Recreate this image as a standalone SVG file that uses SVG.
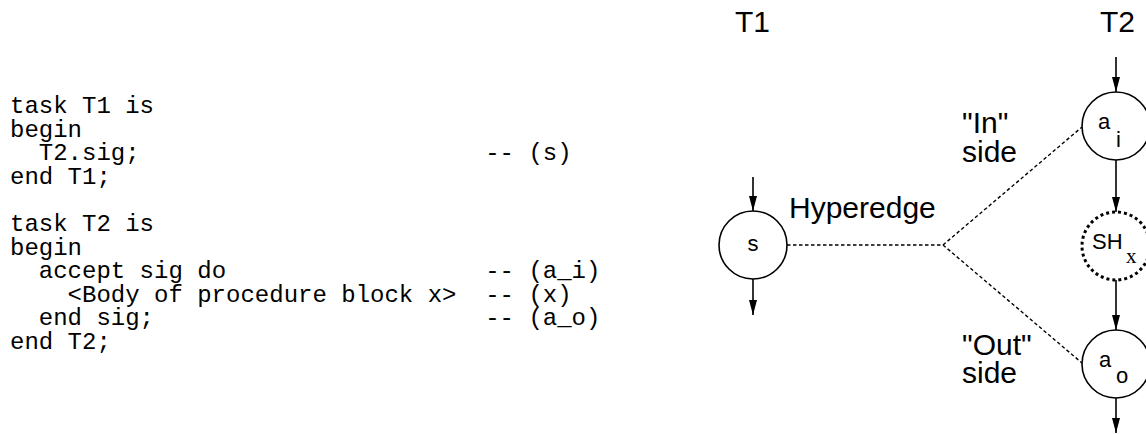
<svg xmlns="http://www.w3.org/2000/svg" width="1146" height="434" viewBox="0 0 1146 434">
<style>
.code{font-family:"Liberation Mono","Courier New",monospace;font-size:24px;fill:#000}
.lbl{font-family:"Liberation Sans",Arial,Helvetica,sans-serif;font-size:30px;fill:#000}
.nl{font-family:"Liberation Sans",Arial,Helvetica,sans-serif;font-size:22px;fill:#000}
.ser{font-family:"Liberation Serif","Times New Roman",serif;font-size:21px;fill:#000}
.node{fill:#fff;stroke:#000;stroke-width:1.6}
.dnode{fill:#fff;stroke:#000;stroke-width:3;stroke-dasharray:3 3}
.arr{stroke:#000;stroke-width:1.6;fill:none;marker-end:url(#ah)}
.hyp{stroke:#000;stroke-width:1.4;fill:none;stroke-dasharray:3.5 2.5}
</style>
<defs>
<marker id="ah" markerUnits="userSpaceOnUse" markerWidth="16" markerHeight="8" refX="15" refY="4" orient="auto">
<path d="M0,0 L15,4 L0,8 z" fill="#000"/>
</marker>
</defs>
<rect width="1146" height="434" fill="#fff"/>
<g id="code">
<text class="code" x="10" y="113">task T1 is</text>
<text class="code" x="10" y="136.6">begin</text>
<text class="code" x="38.8" y="160.2">T2.sig;</text>
<text class="code" x="485.2" y="160.2">-- (s)</text>
<text class="code" x="10" y="183.8">end T1;</text>
<text class="code" x="10" y="231">task T2 is</text>
<text class="code" x="10" y="254.6">begin</text>
<text class="code" x="38.8" y="278.2">accept sig do</text>
<text class="code" x="485.2" y="278.2">-- (a_i)</text>
<text class="code" x="67.6" y="301.8">&lt;Body of procedure block x&gt;</text>
<text class="code" x="485.2" y="301.8">-- (x)</text>
<text class="code" x="38.8" y="325.4">end sig;</text>
<text class="code" x="485.2" y="325.4">-- (a_o)</text>
<text class="code" x="10" y="349">end T2;</text>
</g>
<g id="labels">
<text class="lbl" x="735" y="32">T1</text>
<text class="lbl" x="1100" y="32">T2</text>
<text class="lbl" x="789" y="218">Hyperedge</text>
<text class="lbl" x="962" y="133">"In"</text>
<text class="lbl" x="962" y="162">side</text>
<text class="lbl" x="962" y="355">"Out"</text>
<text class="lbl" x="962" y="383">side</text>
</g>
<g id="connectors">
<line class="arr" x1="753" y1="177" x2="753" y2="211"/>
<line class="arr" x1="753" y1="279" x2="753" y2="315"/>
<line class="arr" x1="1116" y1="57" x2="1116" y2="92"/>
<line class="arr" x1="1116" y1="160" x2="1116" y2="212"/>
<line class="arr" x1="1116" y1="280" x2="1116" y2="330"/>
<line class="arr" x1="1116" y1="398" x2="1116" y2="433"/>
<polyline class="hyp" points="787,245 943,245 1082,127"/>
<line class="hyp" x1="943" y1="245" x2="1082" y2="363"/>
</g>
<g id="node-s">
<circle class="node" cx="753" cy="245" r="34"/>
<text class="nl" x="753" y="251" text-anchor="middle">s</text>
</g>
<g id="node-ai">
<circle class="node" cx="1116" cy="126" r="34"/>
<text class="nl" x="1098" y="129">a</text>
<text class="nl" x="1116" y="147">i</text>
</g>
<g id="node-shx">
<circle class="dnode" cx="1116" cy="246" r="34"/>
<text class="nl" x="1092" y="249">SH</text>
<text class="ser" x="1126" y="263">x</text>
</g>
<g id="node-ao">
<circle class="node" cx="1116" cy="364" r="34"/>
<text class="nl" x="1099" y="367">a</text>
<text class="nl" x="1116" y="383">o</text>
</g>
</svg>
